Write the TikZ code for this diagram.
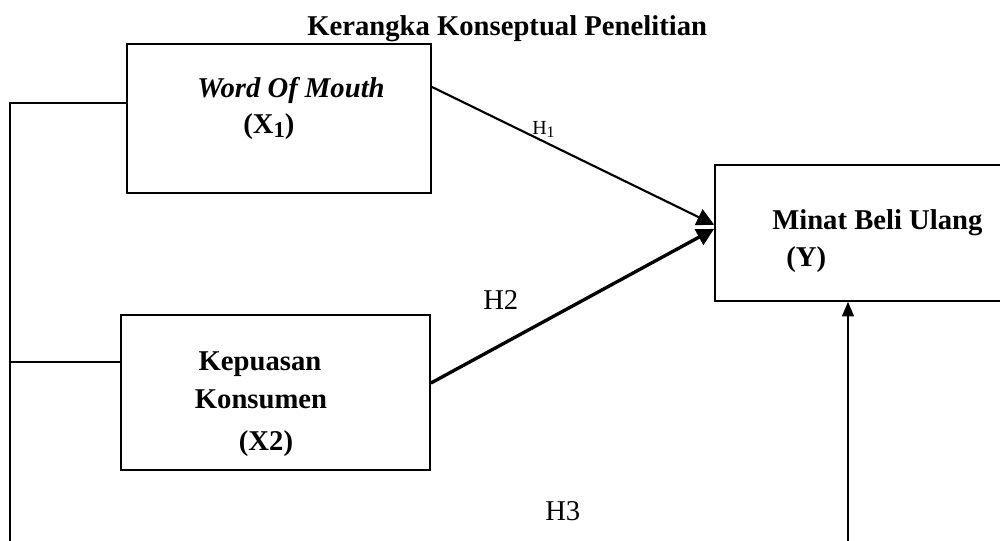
\documentclass[tikz,border=0pt]{standalone}
\usepackage{fontspec}
\setmainfont{Liberation Serif}
\usetikzlibrary{arrows.meta,fit,calc}
\begin{document}
\begin{tikzpicture}[x=0.75pt,y=-0.75pt,
  box/.style={draw, line width=1.2pt, inner sep=0pt, rectangle},
  lbl/.style={anchor=base west, inner sep=0pt, font=\fontsize{21.5}{26}\selectfont},
  clbl/.style={anchor=base, inner sep=0pt, font=\fontsize{21.5}{26}\selectfont\bfseries},
  conn/.style={line width=1.2pt},
  bigtip/.style={-{Triangle[length=13pt,width=13pt]}},
  uptip/.style={-{Triangle[length=11pt,width=9pt]}}
]
\useasboundingbox (0,0) rectangle (1000,540);
\clip (0,0) rectangle (1000,540);

% title
\node[lbl, font=\fontsize{21.5}{26}\selectfont\bfseries] (title) at (307,35) {Kerangka Konseptual Penelitian};

% boxes
\node[box, fit={(127,44) (431,193)}] (x1) {};
\node[box, fit={(121,315) (430,470)}] (x2) {};
\node[box, fit={(715,165) (1012,301)}] (y) {};

% box texts
\node[lbl, font=\fontsize{21.5}{26}\selectfont\bfseries\itshape] (t1) at (197,97) {Word Of Mouth};
\node[lbl, font=\fontsize{21.5}{26}\selectfont\bfseries] (t1b) at (243,133) {(X\raisebox{-0.15em}{\fontsize{17}{20}\selectfont 1})};
\node[clbl] (t2) at (260,370) {Kepuasan};
\node[clbl] (t2b) at (261,408) {Konsumen};
\node[clbl] (t2c) at (266,450) {(X2)};
\node[lbl, font=\fontsize{21.5}{26}\selectfont\bfseries] (t3) at (772,229) {Minat Beli Ulang};
\node[lbl, font=\fontsize{21.5}{26}\selectfont\bfseries] (t3b) at (786,266) {(Y)};

% hypothesis labels
\node[lbl, font=\fontsize{15}{17}\selectfont] (h1) at (532,134) {H\raisebox{-0.15em}{\fontsize{12}{14}\selectfont 1}};
\node[lbl] (h2) at (483,309) {H2};
\node[lbl] (h3) at (545,520) {H3};

% connectors
\draw[line width=1.6pt,bigtip] ($(x1.north east)!0.29!(x1.south east)$) -- ($(y.north west)!0.44!(y.south west)$);
\draw[line width=2.5pt,bigtip] ($(x2.north east)!0.44!(x2.south east)$) -- ($(y.north west)!0.47!(y.south west)$);

\coordinate (lt) at (10,103);
\coordinate (lm) at (10,362);
\coordinate (lb) at (10,548);
\draw[conn] (lb) -- (lt) -- (lt -| x1.west);
\draw[conn] (lm) -- (lm -| x2.west);

\coordinate (vb) at (848,548);
\draw[conn,uptip] (vb) -- (vb |- y.south);
\end{tikzpicture}
\end{document}
